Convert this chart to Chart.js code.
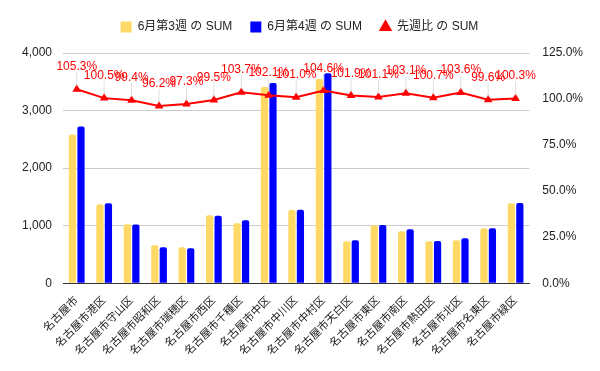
<!DOCTYPE html>
<html>
<head>
<meta charset="utf-8">
<script src="https://cdn.jsdelivr.net/npm/chart.js@4"></script>
<style>
  html, body { margin: 0; padding: 0; background: #fff; }
  #wrap { width: 600px; height: 371px; }
</style>
</head>
<body>
<div id="wrap"><canvas id="myChart"></canvas></div>
<script>
var labels = ["名古屋市", "名古屋市港区", "名古屋市守山区", "名古屋市昭和区", "名古屋市瑞穂区", "名古屋市西区",
  "名古屋市千種区", "名古屋市中区", "名古屋市中川区", "名古屋市中村区", "名古屋市天白区", "名古屋市東区",
  "名古屋市南区", "名古屋市熱田区", "名古屋市北区", "名古屋市名東区", "名古屋市緑区"];
var week3 = [2586, 1374, 1026, 661, 626, 1183, 1043, 3409, 1270, 3548, 730, 1009, 904, 730, 748, 957, 1391];
var week4 = [2725, 1391, 1020, 626, 609, 1171, 1096, 3478, 1275, 3646, 748, 1012, 939, 733, 783, 955, 1393];
var ratio = [105.3, 100.5, 99.4, 96.2, 97.3, 99.5, 103.7, 102.1, 101.0, 104.6, 101.9, 101.1, 103.1, 100.7, 103.6, 99.6, 100.3];

var font = '"Liberation Sans", Arial, "Noto Sans CJK JP", sans-serif';
Chart.defaults.font.family = font;
Chart.defaults.color = '#222';

/* red % labels above line points, with faint leader lines */
var pointLabels = {
  id: 'pointLabels',
  afterDatasetsDraw: function(chart) {
    var ctx = chart.ctx;
    var meta = chart.getDatasetMeta(2);
    ctx.save();
    meta.data.forEach(function(pt, i) {
      ctx.strokeStyle = 'rgba(210,210,210,0.7)';
      ctx.lineWidth = 1;
      ctx.beginPath();
      ctx.moveTo(pt.x, pt.y - 3);
      ctx.lineTo(pt.x, pt.y - 17);
      ctx.stroke();
      ctx.fillStyle = '#ff0000';
      ctx.font = '12px ' + font;
      ctx.textAlign = 'center';
      ctx.textBaseline = 'alphabetic';
      ctx.fillText(ratio[i].toFixed(1) + '%', pt.x, pt.y - 19);
    });
    ctx.restore();
  }
};

// extra room under the legend
var legendGap = {
  id: 'legendGap',
  beforeInit: function(chart) {
    var fit = chart.legend.fit;
    chart.legend.fit = function() {
      fit.bind(chart.legend)();
      this.height += 10;
    };
  }
};

var ctx = document.getElementById('myChart').getContext('2d');
var myChart = new Chart(ctx, {
  data: {
    labels: labels,
    datasets: [{
      type: 'bar',
      label: '6月第3週 の SUM',
      data: week3,
      backgroundColor: '#ffd966',
      borderRadius: { topLeft: 2, topRight: 2 },
      borderSkipped: 'bottom',
      yAxisID: 'y',
      order: 2
    }, {
      type: 'bar',
      label: '6月第4週 の SUM',
      data: week4,
      backgroundColor: '#0000ff',
      borderRadius: { topLeft: 2, topRight: 2 },
      borderSkipped: 'bottom',
      yAxisID: 'y',
      order: 2
    }, {
      type: 'line',
      label: '先週比 の SUM',
      data: ratio,
      borderColor: '#ff0000',
      backgroundColor: '#ff0000',
      borderWidth: 2,
      pointStyle: 'triangle',
      pointRadius: 3,
      tension: 0,
      yAxisID: 'y1',
      order: 1
    }]
  },
  plugins: [pointLabels, legendGap],
  options: {
    responsive: true,
    maintainAspectRatio: false,
    animation: false,
    layout: { padding: { left: 11, right: 12, top: 3, bottom: 10 } },
    datasets: { bar: { barPercentage: 0.85, categoryPercentage: 0.62 } },
    plugins: {
      tooltip: { enabled: false },
      legend: {
        position: 'top',
        labels: {
          usePointStyle: true,
          boxWidth: 11,
          boxHeight: 11,
          padding: 18,
          font: { size: 12, family: font },
          color: '#222',
          sort: function(a, b) { return a.datasetIndex - b.datasetIndex; },
          generateLabels: function(chart) {
            var items = Chart.defaults.plugins.legend.labels.generateLabels(chart);
            items.forEach(function(it) {
              it.pointStyle = it.datasetIndex < 2 ? 'rect' : 'triangle';
              it.lineWidth = 0;
            });
            return items;
          }
        }
      }
    },
    scales: {
      x: {
        grid: { display: false },
        border: { color: '#333', width: 1 },
        ticks: { maxRotation: 45, minRotation: 45, autoSkip: false, padding: 3, font: { size: 11 }, color: '#222' }
      },
      y: {
        position: 'left',
        min: 0,
        max: 4000,
        grid: { color: '#cccccc', drawTicks: false },
        border: { display: false },
        ticks: {
          stepSize: 1000,
          padding: 11,
          font: { size: 12 },
          color: '#222',
          callback: function(v) { return v.toLocaleString('en-US'); }
        }
      },
      y1: {
        position: 'right',
        min: 0,
        max: 125,
        grid: { display: false },
        border: { display: false },
        ticks: {
          stepSize: 25,
          padding: 5,
          font: { size: 12 },
          color: '#222',
          callback: function(v) { return v.toFixed(1) + '%'; }
        }
      }
    }
  }
});
</script>
</body>
</html>
